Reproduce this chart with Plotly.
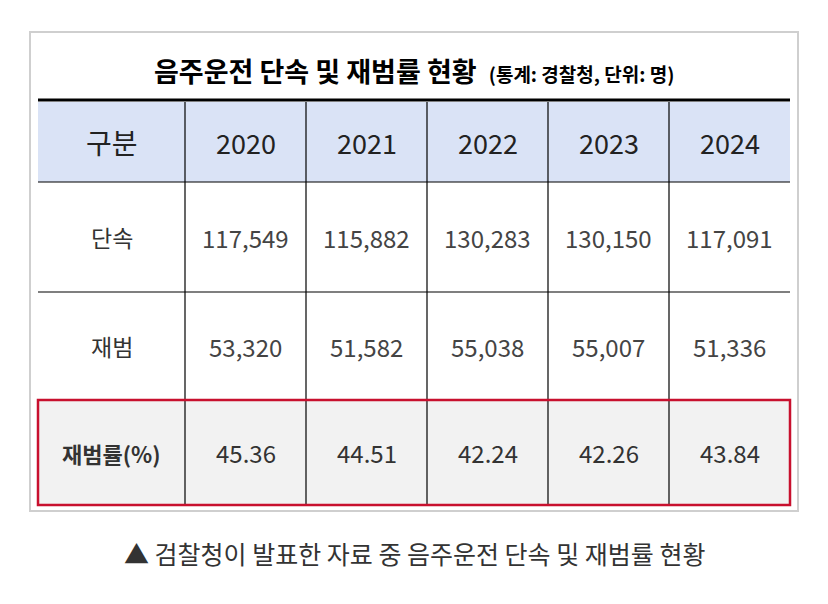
import plotly.graph_objects as go

title_main = "음주운전 단속 및 재범률 현황"
title_sub = "(통계: 경찰청, 단위: 명)"
header = "구분"
years = ["2020", "2021", "2022", "2023", "2024"]
row_labels = ["단속", "재범", "재범률(%)"]
crackdown = ["117,549", "115,882", "130,283", "130,150", "117,091"]
repeat = ["53,320", "51,582", "55,038", "55,007", "51,336"]
rate = ["45.36", "44.51", "42.24", "42.26", "43.84"]
caption = "▲ 검찰청이 발표한 자료 중 음주운전 단속 및 재범률 현황"

F = "Noto Sans CJK KR"
cols = [38, 185, 306, 427, 548, 669, 790]
rows = [102, 182, 292, 400, 505]

fig = go.Figure()
shapes = []
ann = []
shapes.append(dict(type="rect", x0=30, x1=798, y0=32, y1=511, line=dict(color="#cfcfcf", width=2), fillcolor="white", layer="below"))
shapes.append(dict(type="rect", x0=cols[0], x1=cols[-1], y0=rows[0], y1=rows[1], line=dict(width=0), fillcolor="#dae3f6", layer="below"))
shapes.append(dict(type="rect", x0=cols[0], x1=cols[-1], y0=rows[3], y1=rows[4], line=dict(width=0), fillcolor="#f2f2f2", layer="below"))
shapes.append(dict(type="line", x0=cols[0], x1=cols[-1], y0=100, y1=100, line=dict(color="black", width=3)))
for y in rows[1:4]:
    shapes.append(dict(type="line", x0=cols[0], x1=cols[-1], y0=y, y1=y, line=dict(color="black", width=1.2)))
for x in cols[1:-1]:
    shapes.append(dict(type="line", x0=x, x1=x, y0=rows[0], y1=rows[4], line=dict(color="black", width=1.2)))
shapes.append(dict(type="rect", x0=cols[0], x1=cols[-1], y0=rows[3], y1=rows[4], line=dict(color="#c8102e", width=2.5)))

def cx(i):
    return (cols[i] + cols[i + 1]) / 2
def cy(j):
    return (rows[j] + rows[j + 1]) / 2

ann.append(dict(x=414, y=70, text=f"<b>{title_main}</b>  <b><span style='font-size:19px'>{title_sub}</span></b>", font=dict(size=27, color="black", family=F)))
ann.append(dict(x=cx(0), y=cy(0), text=header, font=dict(size=28, color="#222", family=F)))
for i, yr in enumerate(years):
    ann.append(dict(x=cx(i + 1), y=cy(0), text=yr, font=dict(size=27, color="#222", family=F)))
data = [crackdown, repeat, rate]
for j, lab in enumerate(row_labels):
    bold = j == 2
    ann.append(dict(x=cx(0), y=cy(j + 1), text=f"<b>{lab}</b>" if bold else lab, font=dict(size=22 if bold else 23, color="#333", family=F)))
    for i, v in enumerate(data[j]):
        ann.append(dict(x=cx(i + 1), y=cy(j + 1), text=v, font=dict(size=24, color="#444" if j < 2 else "#333", family=F)))
ann.append(dict(x=414, y=553, text=caption, font=dict(size=25, color="#333", family=F)))
for a in ann:
    a.update(xref="x", yref="y", showarrow=False)

fig.update_layout(width=828, height=604, margin=dict(l=0, r=0, t=0, b=0),
                  paper_bgcolor="white", plot_bgcolor="white", shapes=shapes, annotations=ann,
                  xaxis=dict(range=[8, 836], visible=False, fixedrange=True),
                  yaxis=dict(range=[612, 8], visible=False, fixedrange=True), showlegend=False)
fig.write_html("out.html", config={"displayModeBar": False})
